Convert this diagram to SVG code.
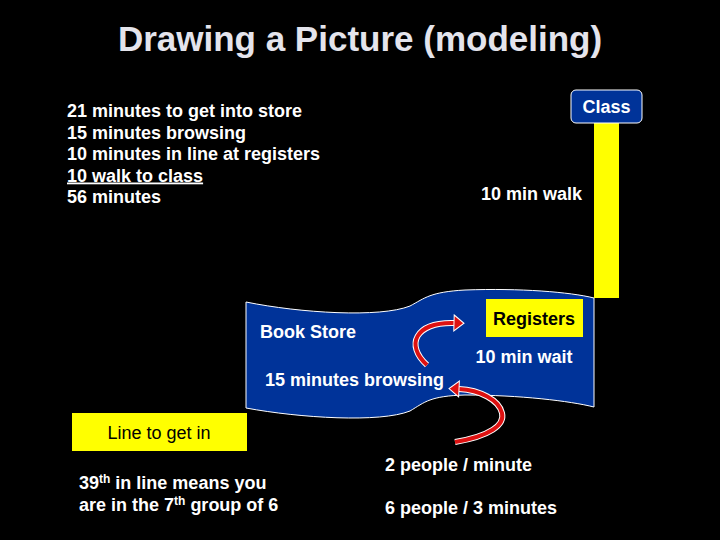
<svg xmlns="http://www.w3.org/2000/svg" width="720" height="540" viewBox="0 0 720 540">
<style>
.t{font-family:"Liberation Sans",Arial,sans-serif;font-size:18px;font-weight:bold;fill:#ffffff}
.r{font-family:"Liberation Sans",Arial,sans-serif;font-size:18px;fill:#000000}
.title{font-family:"Liberation Sans",Arial,sans-serif;font-size:35px;font-weight:bold;fill:#e4e4ec}
.sup{font-size:12px}
.yel{fill:#ffff00}
.blue{fill:#003399;stroke:#ffffff;stroke-width:1}
.arrowOut{fill:none;stroke:#ffffff;stroke-width:6}
.arrowIn{fill:none;stroke:#dd1111;stroke-width:4}
</style>
<defs>
<marker id="head" markerUnits="userSpaceOnUse" viewBox="-1 -9 13 18" markerWidth="13" markerHeight="18" refX="0" refY="0" orient="auto" overflow="visible">
<path d="M0,-8 L10,0 L0,8 Z" fill="#dd1111" stroke="#ffffff" stroke-width="1"/>
</marker>
</defs>
<rect width="720" height="540" fill="#000000"/>
<text class="title" x="360" y="51" text-anchor="middle">Drawing a Picture (modeling)</text>
<g id="summary">
<text class="t" x="67" y="117">21 minutes to get into store</text>
<text class="t" x="67" y="138.5">15 minutes browsing</text>
<text class="t" x="67" y="160">10 minutes in line at registers</text>
<text class="t" x="67" y="181.5" text-decoration="underline">10 walk to class</text>
<text class="t" x="67" y="203">56 minutes</text>
</g>
<g id="walk">
<rect class="yel" x="594" y="123" width="25" height="175"/>
<text class="t" x="481" y="200">10 min walk</text>
</g>
<g id="class">
<rect class="blue" x="571" y="90" width="71" height="33" rx="5"/>
<text class="t" x="606.5" y="113" text-anchor="middle">Class</text>
</g>
<g id="bookstore">
<path class="blue" d="M246,302 C300,313 380,318 410,306 C425,298 430,292 465,290 C520,288 570,292 594,298 L594,407 C570,401 520,395 465,395 C430,396 425,402 410,411 C380,423 300,418 246,408 Z"/>
<text class="t" x="260" y="338">Book Store</text>
<text class="t" x="265" y="386">15 minutes browsing</text>
</g>
<g id="registers">
<rect class="yel" x="486" y="299" width="97" height="38"/>
<text class="t" x="534" y="325" text-anchor="middle" fill="#000000" style="fill:#000000">Registers</text>
<text class="t" x="524" y="363" text-anchor="middle">10 min wait</text>
</g>
<g id="line">
<rect class="yel" x="72" y="413" width="175" height="38"/>
<text class="r" x="159" y="439" text-anchor="middle">Line to get in</text>
</g>
<g id="notes">
<text class="t" x="79" y="489">39<tspan class="sup" dy="-6">th</tspan><tspan dy="6"> in line means you</tspan></text>
<text class="t" x="79" y="511">are in the 7<tspan class="sup" dy="-6">th</tspan><tspan dy="6"> group of 6</tspan></text>
<text class="t" x="385" y="471">2 people / minute</text>
<text class="t" x="385" y="514">6 people / 3 minutes</text>
</g>
<g id="connectors">
<path class="arrowOut" d="M427,365 C405,345 415,322 454,323"/>
<path class="arrowIn" d="M427,365 C405,345 415,322 454,323" marker-end="url(#head)"/>
<path class="arrowOut" d="M455,442 C490,436 505,425 502,413 C499,400 480,390 459,389"/>
<path class="arrowIn" d="M455,442 C490,436 505,425 502,413 C499,400 480,390 459,389" marker-end="url(#head)"/>
</g>
</svg>
